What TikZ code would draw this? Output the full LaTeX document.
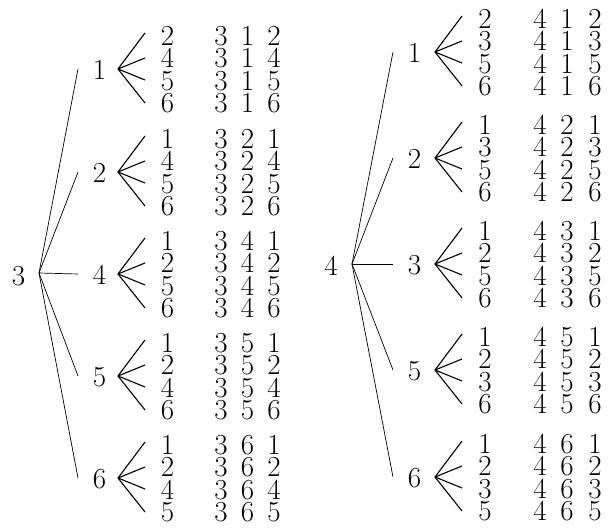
\documentclass[tikz,border=0pt]{standalone}
\usepackage{fontspec}
\begin{document}
\begin{tikzpicture}[x=1pt,y=-1pt,
  digit/.style={inner sep=0pt,anchor=center,
    font=\fontsize{29}{34}\selectfont\addfontfeature{FakeBold=3}},
  trunk/.style={line width=0.7pt},
  fan/.style={line width=1.1pt}]
\useasboundingbox (0,0) rectangle (614,529);

% ---------- tree rooted at 3 ----------
\node[digit] (Lroot) at (18.5,276) {3};
\coordinate (Lr) at (39,273);
\foreach \fy/\g/\leaves in {69/1/{2,4,5,6},172/2/{1,4,5,6},274/4/{1,2,5,6},376/5/{1,2,4,6},478/6/{1,2,4,5}}{
  \coordinate (L\g end) at (78,\fy);
  \draw[trunk] (Lr) -- (L\g end);
  \node[digit] (L\g) at (99.5,\fy+1) {\g};
  \coordinate (L\g fan) at (118,\fy);
  \foreach \leaf [count=\i] in \leaves {
    \pgfmathsetmacro\ro{{-33,-11,12,34}[\i-1]}
    \pgfmathsetmacro\eo{{-36,-11,11,34}[\i-1]}
    \coordinate (L\g-\leaf e) at (145,\fy+\eo);
    \draw[fan] (L\g fan) -- (L\g-\leaf e);
    \node[digit] (L\g-\leaf) at (167.5,\fy+\ro) {\leaf};
    \node[digit] (L\g-\leaf a) at (221,\fy+\ro) {3};
    \node[digit] (L\g-\leaf b) at (247.5,\fy+\ro) {\g};
    \node[digit] (L\g-\leaf c) at (274,\fy+\ro) {\leaf};
  }
}

% ---------- tree rooted at 4 ----------
\node[digit] (Rroot) at (331,266) {4};
\coordinate (Rr) at (352,264);
\foreach \fy/\g/\leaves in {52/1/{2,3,5,6},158/2/{1,3,5,6},264/3/{1,2,5,6},370/5/{1,2,3,6},477/6/{1,2,3,5}}{
  \coordinate (R\g end) at (393,\fy);
  \draw[trunk] (Rr) -- (R\g end);
  \node[digit] (R\g) at (414.5,\fy+1) {\g};
  \coordinate (R\g fan) at (435,\fy);
  \foreach \leaf [count=\i] in \leaves {
    \pgfmathsetmacro\ro{{-33,-11,12,34}[\i-1]}
    \pgfmathsetmacro\eo{{-36,-11,11,34}[\i-1]}
    \coordinate (R\g-\leaf e) at (462,\fy+\eo);
    \draw[fan] (R\g fan) -- (R\g-\leaf e);
    \node[digit] (R\g-\leaf) at (485,\fy+\ro) {\leaf};
    \node[digit] (R\g-\leaf a) at (540,\fy+\ro) {4};
    \node[digit] (R\g-\leaf b) at (567,\fy+\ro) {\g};
    \node[digit] (R\g-\leaf c) at (595,\fy+\ro) {\leaf};
  }
}
\end{tikzpicture}
\end{document}
